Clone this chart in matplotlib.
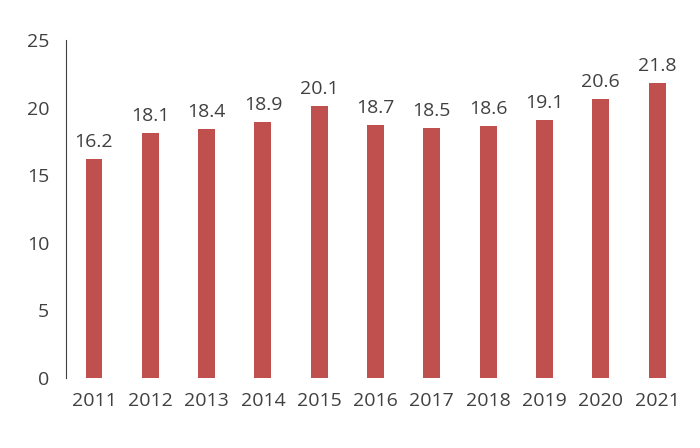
import matplotlib
matplotlib.use("Agg")
import matplotlib.pyplot as plt

years = ["2011","2012","2013","2014","2015","2016","2017","2018","2019","2020","2021"]
values = [16.2,18.1,18.4,18.9,20.1,18.7,18.5,18.6,19.1,20.6,21.8]

plt.rcParams['font.family'] = ['Open Sans', 'DejaVu Sans']
fig = plt.figure(figsize=(7,4.48), dpi=100)
ax = fig.add_axes([0.094, 0.156, 0.885, 0.755])
x = range(len(years))
ax.bar(x, values, width=0.3, color='#C0504D')
for xi, v in zip(x, values):
    ax.text(xi, v + 0.6, f"{v}", ha='center', va='bottom', fontsize=14, color='#404040')
ax.set_xlim(-0.5, len(years)-0.5)
ax.set_ylim(0, 25)
ax.set_yticks([0,5,10,15,20,25])
ax.set_xticks(list(x))
ax.set_xticklabels(years)
for s in ['top','right','bottom']:
    ax.spines[s].set_visible(False)
ax.spines['left'].set_color('#404040')
ax.tick_params(axis='both', length=0, labelsize=14, colors='#404040')
ax.tick_params(axis='y', pad=12)
ax.tick_params(axis='x', pad=10)
fig.savefig("out.png", dpi=100)
